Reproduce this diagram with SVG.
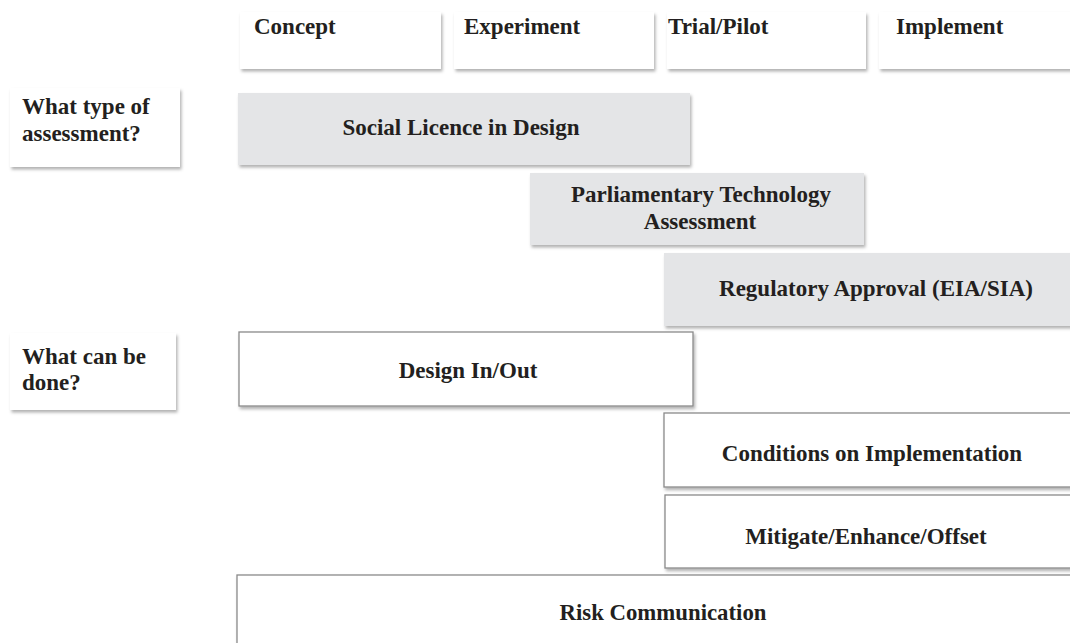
<svg xmlns="http://www.w3.org/2000/svg" width="1070" height="643" viewBox="0 0 1070 643">
<style>
text{font-family:"Liberation Serif","Times New Roman",serif;font-weight:bold;font-size:23px;fill:#231f20}
.c{text-anchor:middle}
.plain{fill:#ffffff;filter:url(#sh)}
.gray{fill:#e4e5e7;filter:url(#sh)}
.out{fill:#ffffff;stroke:#8a8a8a;stroke-width:1.3;filter:url(#sh)}
</style>
<defs>
<filter id="sh" x="-5%" y="-10%" width="110%" height="130%">
<feDropShadow dx="1.5" dy="2.5" stdDeviation="1.8" flood-color="#000" flood-opacity="0.3"/>
</filter>
</defs>
<rect width="1070" height="643" fill="#ffffff"/>
<g id="connectors"></g>
<g id="h-concept"><rect class="plain" x="240" y="12" width="201" height="57"/><text x="254" y="34">Concept</text></g>
<g id="h-experiment"><rect class="plain" x="454" y="12" width="200" height="57"/><text x="464" y="34">Experiment</text></g>
<g id="h-trial"><rect class="plain" x="667" y="12" width="199" height="57"/><text x="668" y="34">Trial/Pilot</text></g>
<g id="h-implement"><rect class="plain" x="879" y="12" width="195" height="57"/><text x="896" y="34">Implement</text></g>
<g id="l-type"><rect class="plain" x="10" y="88" width="170" height="79"/><text x="22" y="114">What type of</text><text x="22" y="141">assessment?</text></g>
<g id="l-done"><rect class="plain" x="10" y="333" width="166" height="77"/><text x="22" y="364">What can be</text><text x="22" y="390">done?</text></g>
<g id="social"><rect class="gray" x="238" y="93" width="452" height="72"/><text class="c" x="461" y="135">Social Licence in Design</text></g>
<g id="parl"><rect class="gray" x="530" y="173" width="334" height="72"/><text class="c" x="701" y="202">Parliamentary Technology</text><text class="c" x="700" y="229">Assessment</text></g>
<g id="reg"><rect class="gray" x="664" y="253" width="410" height="73"/><text class="c" x="876" y="296">Regulatory Approval (EIA/SIA)</text></g>
<g id="design"><rect class="out" x="239" y="332" width="454" height="74"/><text class="c" x="468" y="378">Design In/Out</text></g>
<g id="conditions"><rect class="out" x="664" y="413" width="410" height="74"/><text class="c" x="872" y="461">Conditions on Implementation</text></g>
<g id="mitigate"><rect class="out" x="665" y="495" width="409" height="73"/><text class="c" x="866" y="544">Mitigate/Enhance/Offset</text></g>
<g id="risk"><rect class="out" x="237" y="575" width="837" height="75"/><text class="c" x="663" y="620" font-size="23" textLength="207" lengthAdjust="spacingAndGlyphs">Risk Communication</text></g>
</svg>
